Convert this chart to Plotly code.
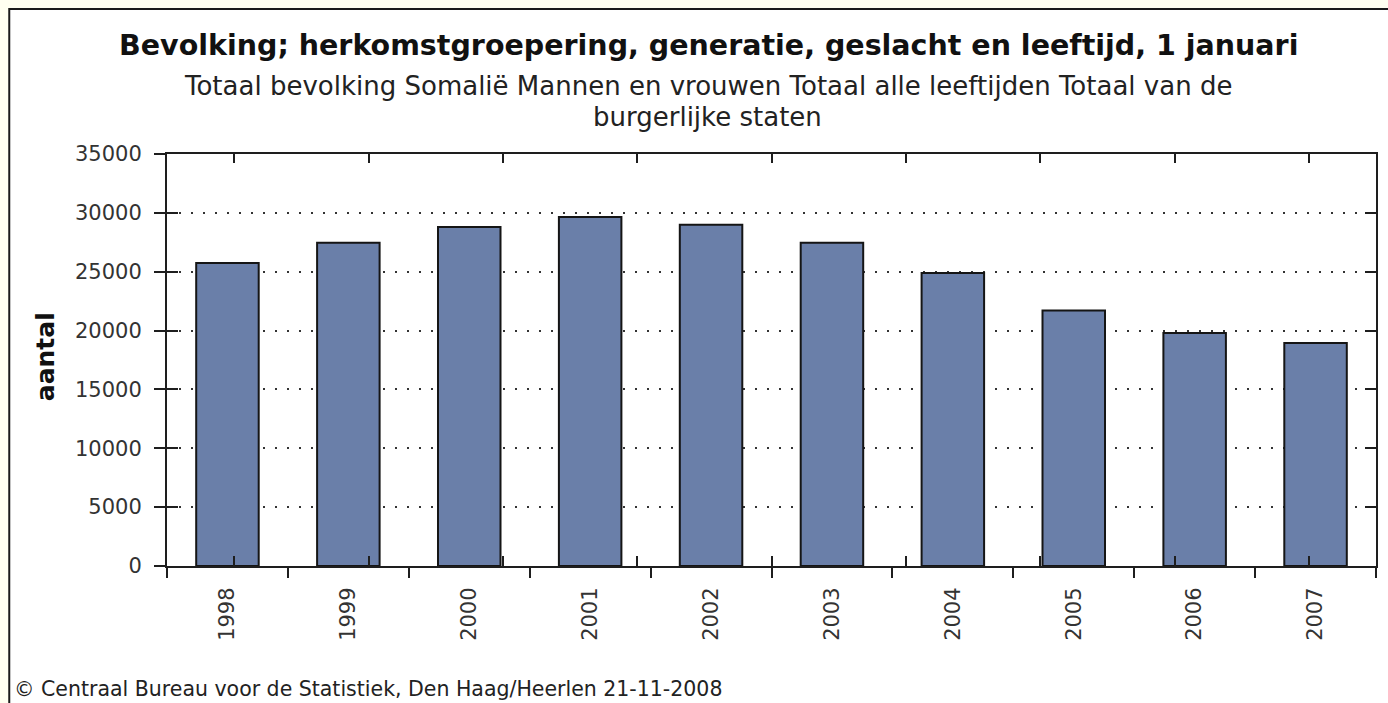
import plotly.graph_objects as go

years = ["1998", "1999", "2000", "2001", "2002", "2003", "2004", "2005", "2006", "2007"]
aantal = [25750, 27450, 28800, 29650, 29000, 27450, 24900, 21700, 19800, 18950]
y_ticks = [0, 5000, 10000, 15000, 20000, 25000, 30000, 35000]
y_ticktext = ["0", "5000", "10000", "15000", "20000", "25000", "30000", "35000"]

title = "Bevolking; herkomstgroepering, generatie, geslacht en leeftijd, 1 januari"
sub1 = "Totaal bevolking Somalië Mannen en vrouwen Totaal alle leeftijden Totaal van de"
sub2 = "burgerlijke staten"
footer = "© Centraal Bureau voor de Statistiek, Den Haag/Heerlen 21-11-2008"
ylabel = "aantal"

FONT = "DejaVu Sans"
AX = "#1e1e1e"
W, H = 1388, 703
L, R, T, B = 167, 10, 154, 137
PW, PH = W - L - R, H - T - B


def px(x):
    return (x - L) / PW


def py(y):
    return (H - B - y) / PH


fig = go.Figure()
fig.add_trace(go.Bar(
    x=years, y=aantal, xaxis="x", yaxis="y",
    marker=dict(color="#6a7fa9", line=dict(color="#151515", width=2)),
    hoverinfo="x+y",
))
# invisible helper traces for the extra tick axes
fig.add_trace(go.Scatter(x=years, y=aantal, xaxis="x2", yaxis="y2", mode="none",
                         hoverinfo="skip", showlegend=False))
fig.add_trace(go.Scatter(x=years, y=aantal, xaxis="x3", yaxis="y3", mode="none",
                         hoverinfo="skip", showlegend=False))

yr = [0, 35000]
fig.update_layout(
    width=W, height=H,
    margin=dict(l=L, r=R, t=T, b=B, pad=0),
    paper_bgcolor="#fffff0",
    plot_bgcolor="white",
    showlegend=False,
    bargap=0.483,
    font=dict(family=FONT, color="#222", size=20),
    xaxis=dict(type="category", categoryorder="array", categoryarray=years,
               tickson="boundaries", ticks="outside", ticklen=10, tickwidth=2, tickcolor=AX,
               showline=True, linewidth=2, linecolor=AX, showgrid=False, mirror=True,
               tickangle=-90, tickfont=dict(size=21, color="#333"), ticklabelstandoff=11),
    xaxis2=dict(type="category", categoryorder="array", categoryarray=years, overlaying="x",
                side="bottom", anchor="y2", tickson="boundaries", ticks="inside", ticklen=10,
                tickwidth=2, tickcolor=AX, showticklabels=False, showline=False, showgrid=False),
    xaxis3=dict(type="category", categoryorder="array", categoryarray=years, overlaying="x",
                side="top", anchor="y3", tickson="boundaries", ticks="inside", ticklen=9,
                tickwidth=2, tickcolor=AX, showticklabels=False, showline=True, linewidth=2,
                linecolor=AX, showgrid=False),
    yaxis=dict(range=yr, tickvals=y_ticks, ticktext=y_ticktext, ticks="outside", ticklen=11,
               tickwidth=2, tickcolor=AX, mirror=True,
               showline=True, linewidth=2, linecolor=AX, showgrid=True, gridcolor="#333",
               gridwidth=2, griddash="2px,10px", zeroline=False,
               tickfont=dict(size=21, color="#333"), ticklabelstandoff=8),
    yaxis2=dict(range=yr, tickvals=y_ticks, overlaying="y", side="left", anchor="x2",
                ticks="inside", ticklen=11, tickwidth=2, tickcolor=AX, showticklabels=False,
                showline=False, showgrid=False, zeroline=False),
    yaxis3=dict(range=yr, tickvals=y_ticks, overlaying="y", side="right", anchor="x3",
                ticks="inside", ticklen=11, tickwidth=2, tickcolor=AX, showticklabels=False,
                showline=True, linewidth=2, linecolor=AX, showgrid=False, zeroline=False),
    shapes=[dict(type="rect", xref="paper", yref="paper", layer="below",
                 x0=px(9), x1=px(W + 20), y0=py(H + 20), y1=py(9),
                 fillcolor="white", line=dict(color="#1a1a1a", width=2))],
    annotations=[
        dict(text=title, x=px(709), y=py(45), xref="paper", yref="paper", showarrow=False,
             xanchor="center", yanchor="middle", font=dict(size=28.5, color="#111", family=FONT, weight="bold")),
        dict(text=sub1, x=px(709), y=py(86), xref="paper", yref="paper", showarrow=False,
             xanchor="center", yanchor="middle", font=dict(size=26, color="#222")),
        dict(text=sub2, x=px(708), y=py(117), xref="paper", yref="paper", showarrow=False,
             xanchor="center", yanchor="middle", font=dict(size=26, color="#222")),
        dict(text=ylabel, x=px(45), y=py(357), xref="paper", yref="paper", showarrow=False,
             textangle=-90, xanchor="center", yanchor="middle",
             font=dict(size=25, color="#111", weight="bold")),
        dict(text=footer, x=px(12), y=py(689), xref="paper", yref="paper", showarrow=False,
             xanchor="left", yanchor="middle", font=dict(size=20.5, color="#222")),
    ],
)

fig.write_html("out.html", config={"displayModeBar": False},
               post_script="document.body.style.margin='0';document.body.style.overflow='hidden';")
